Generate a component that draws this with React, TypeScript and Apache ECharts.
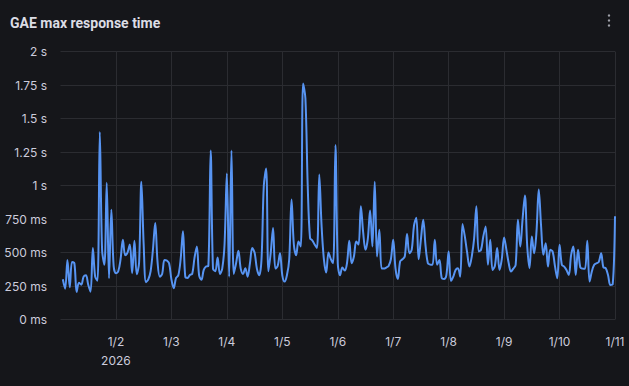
import React, { useEffect, useRef } from 'react';
import * as echarts from 'echarts';

const titleText = 'GAE max response time';
const dayLabels = ['1/1', '1/2', '1/3', '1/4', '1/5', '1/6', '1/7', '1/8', '1/9', '1/10', '1/11'];
const yearLabel = '2026';

// hourly max response time in ms, one array per day (hours 1..24 after each midnight)
const jan1 = [300, 230, 445, 240, 430, 420, 205, 275, 260, 320, 330, 260, 208, 533, 320, 290, 1400, 520, 408, 1020, 308, 820, 400, 346];
const jan2 = [360, 450, 595, 480, 500, 560, 346, 588, 338, 420, 1028, 560, 279, 300, 360, 520, 720, 430, 320, 340, 445, 440, 420, 300];
const jan3 = [234, 310, 330, 450, 658, 320, 310, 333, 340, 460, 545, 330, 296, 370, 395, 400, 1262, 380, 360, 463, 340, 380, 560, 1090];
const jan4 = [320, 1262, 340, 420, 513, 380, 340, 383, 320, 420, 533, 500, 380, 330, 450, 1000, 1127, 360, 500, 683, 380, 400, 495, 330];
const jan5 = [283, 330, 450, 895, 560, 480, 583, 545, 1762, 1650, 1000, 608, 590, 560, 533, 1082, 700, 450, 350, 500, 450, 420, 1302, 420];
const jan6 = [330, 388, 365, 420, 588, 420, 470, 583, 560, 845, 650, 520, 600, 813, 545, 1028, 470, 670, 380, 380, 388, 400, 450, 595];
const jan7 = [380, 303, 433, 450, 470, 638, 495, 520, 700, 760, 450, 600, 745, 550, 420, 410, 408, 595, 408, 445, 310, 303, 330, 508];
const jan8 = [288, 320, 370, 383, 320, 713, 620, 500, 395, 470, 600, 845, 508, 520, 620, 695, 408, 595, 370, 400, 533, 370, 450, 613];
const jan9 = [520, 420, 358, 380, 408, 745, 545, 750, 925, 550, 383, 620, 495, 650, 970, 700, 483, 570, 395, 520, 508, 400, 308, 558];
const jan10 = [408, 395, 370, 333, 480, 545, 333, 520, 388, 380, 378, 588, 283, 360, 408, 420, 430, 495, 388, 383, 330, 258, 262, 770];

const bg = '#15161a';
const gridColor = '#2b2c31';
const textColor = '#ccccdc';
const lineColor = '#5794F2';

export default function App() {
  const ref = useRef<HTMLDivElement>(null);

  useEffect(() => {
    if (!ref.current) return;
    const chart = echarts.init(ref.current, undefined, { renderer: 'svg' });
    const values = [...jan1, ...jan2, ...jan3, ...jan4, ...jan5, ...jan6, ...jan7, ...jan8, ...jan9, ...jan10];
    const data = values.map((v, i) => [i + 1, v]);
    const hours = values.length;

    chart.setOption({
      animation: false,
      backgroundColor: bg,
      title: {
        text: titleText,
        left: 5,
        top: 11,
        textStyle: { color: '#dcdde5', fontSize: 14, fontWeight: 'bold', fontFamily: 'Roboto' },
      },
      graphic: [
        { type: 'circle', shape: { cx: 609, cy: 15.5, r: 1.2 }, style: { fill: '#a0a1aa' } },
        { type: 'circle', shape: { cx: 609, cy: 20.5, r: 1.2 }, style: { fill: '#a0a1aa' } },
        { type: 'circle', shape: { cx: 609, cy: 25.5, r: 1.2 }, style: { fill: '#a0a1aa' } },
      ],
      grid: { left: 60.5, right: 14, top: 51.6, bottom: 66.5 },
      xAxis: {
        type: 'value',
        min: 0,
        max: hours,
        interval: 24,
        axisLine: { show: false },
        axisTick: { show: false },
        splitLine: { show: true, showMinLine: false, lineStyle: { color: gridColor, width: 1 } },
        axisLabel: {
          color: textColor,
          fontSize: 12,
          fontFamily: 'Inter',
          margin: 12,
          lineHeight: 19,
          showMinLabel: false,
          formatter: (v: number) => {
            const idx = Math.round(v / 24);
            if (idx === 0) return '';
            if (idx === 1) return `${dayLabels[1]}\n${yearLabel}`;
            return dayLabels[idx] ?? '';
          },
        },
      },
      yAxis: {
        type: 'value',
        min: 0,
        max: 2000,
        interval: 250,
        axisLine: { show: false },
        axisTick: { show: false },
        splitLine: { show: true, lineStyle: { color: gridColor, width: 1 } },
        axisLabel: {
          color: textColor,
          fontSize: 12,
          fontFamily: 'Inter',
          margin: 13.5,
          formatter: (v: number) => (v >= 1000 ? `${v / 1000} s` : `${v} ms`),
        },
      },
      series: [
        {
          type: 'line',
          data,
          smooth: 0.35,
          symbol: 'none',
          lineStyle: { color: lineColor, width: 2 },
        },
      ],
    });

    return () => chart.dispose();
  }, []);

  return (
    <div
      ref={ref}
      style={{ position: 'fixed', left: 0, top: 0, width: 629, height: 386, background: bg }}
    />
  );
}
